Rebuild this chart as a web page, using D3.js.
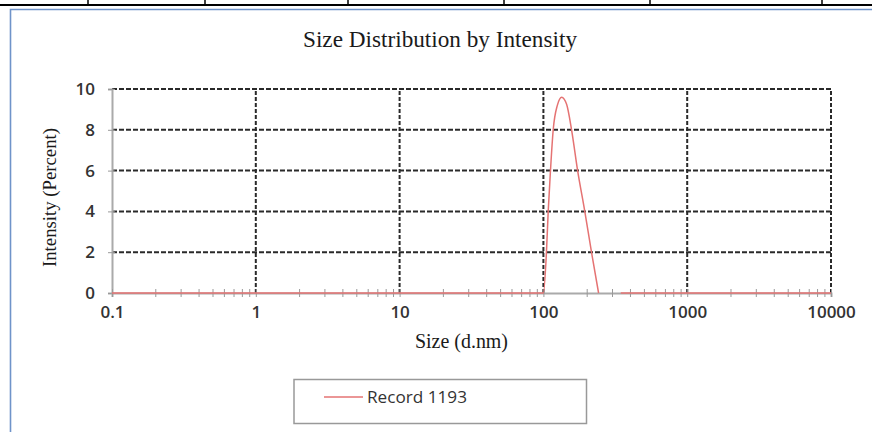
<!DOCTYPE html>
<html>
<head>
<meta charset="utf-8">
<script src="https://cdn.jsdelivr.net/npm/d3@7"></script>
<style>
  body { margin: 0; background: #fff; }
</style>
</head>
<body>
<div id="chart"></div>
<script>
// Data
const decadeTicks = [0.1, 1, 10, 100, 1000, 10000];
const decadeLabels = ["0.1", "1", "10", "100", "1000", "10000"];
const intensityTicks = [0, 2, 4, 6, 8, 10];
// size (d.nm) and intensity (%) of Record 1193; null = no point drawn
const recordSize = [0.1, 100, 105, 108, 112, 117, 125, 134, 145, 157, 173, 194, 216, 242, 300, 345, 10000];
const recordIntensity = [0, 0, 2, 4, 6, 8, 9.2, 9.6, 9.25, 8, 6, 4, 2, 0, null, 0, 0];
const seriesName = "Record 1193";

const width = 872, height = 432;
const plot = { left: 112, right: 831, top: 89, bottom: 293 };
const red = "#e57373";
const labelFont = "'Open Sans', sans-serif";
const serif = "'Liberation Serif', 'Times New Roman', serif";

const svg = d3.select("#chart")
    .append("svg")
    .attr("width", width)
    .attr("height", height);

svg.append("rect").attr("width", width).attr("height", height).attr("fill", "#fff");

// bit of the table above the chart
svg.append("line")
    .attr("x1", 0).attr("x2", width).attr("y1", 5).attr("y2", 5)
    .attr("stroke", "#000").attr("stroke-width", 2);
[88, 205, 348, 504, 650, 822].forEach(cx => {
    svg.append("line")
        .attr("x1", cx).attr("x2", cx).attr("y1", 0).attr("y2", 5)
        .attr("stroke", "#000").attr("stroke-width", 1.5);
});

// chart frame (runs off the right and bottom)
svg.append("path")
    .attr("d", `M10.5,${height} L10.5,9.5 L${width},9.5`)
    .attr("fill", "none")
    .attr("stroke", "#6f93c9")
    .attr("stroke-width", 1.6);

// Scales
const xScale = d3.scaleLog()
    .domain([0.1, 10000])
    .range([plot.left, plot.right]);

const yScale = d3.scaleLinear()
    .domain([0, 10])
    .range([plot.bottom, plot.top]);

// Dashed grid
svg.selectAll(".h-grid")
    .data(intensityTicks.slice(1))
    .enter()
    .append("line")
    .attr("class", "h-grid")
    .attr("x1", plot.left).attr("x2", plot.right)
    .attr("y1", d => yScale(d)).attr("y2", d => yScale(d))
    .attr("stroke", "#2a2a2a")
    .attr("stroke-width", 2)
    .attr("stroke-dasharray", "5,2");

svg.selectAll(".v-grid")
    .data(decadeTicks.slice(1))
    .enter()
    .append("line")
    .attr("class", "v-grid")
    .attr("x1", d => xScale(d)).attr("x2", d => xScale(d))
    .attr("y1", yScale(0)).attr("y2", yScale(10))
    .attr("stroke", "#2a2a2a")
    .attr("stroke-width", 2)
    .attr("stroke-dasharray", "4,2");

// Axes
const yAxis = svg.append("g")
    .attr("transform", `translate(${plot.left},0)`)
    .call(d3.axisLeft(yScale).tickValues(intensityTicks).tickSize(4).tickPadding(13));

yAxis.select(".domain").attr("stroke", "#aaa").attr("stroke-width", 2);
yAxis.selectAll(".tick line").attr("stroke", "#999").attr("x2", 3).attr("x1", -4);
yAxis.selectAll("text")
    .style("font-family", labelFont)
    .style("font-size", "17px")
    .style("font-weight", "600")
    .attr("fill", "#333");

const xMinor = svg.append("g")
    .attr("transform", `translate(0,${plot.bottom})`)
    .call(d3.axisBottom(xScale).tickValues(xScale.ticks()).tickFormat("").tickSize(4));

xMinor.select(".domain").attr("stroke", "#aaa").attr("stroke-width", 2);
xMinor.selectAll(".tick line").attr("stroke", "#999").attr("y1", -4).attr("y2", 4);

const xAxis = svg.append("g")
    .attr("transform", `translate(0,${plot.bottom})`)
    .call(d3.axisBottom(xScale)
        .tickValues(decadeTicks)
        .tickFormat((d, i) => decadeLabels[i])
        .tickSize(0)
        .tickPadding(22));

xAxis.select(".domain").remove();
xAxis.selectAll("text")
    .style("font-family", labelFont)
    .style("font-size", "17px")
    .style("font-weight", "600")
    .attr("fill", "#333")
    .attr("dy", "0.2em");

// Record line
const points = recordSize.map((s, i) => ({ size: s, value: recordIntensity[i] }));

const line = d3.line()
    .defined(d => d.value !== null)
    .x(d => xScale(d.size))
    .y(d => yScale(d.value))
    .curve(d3.curveMonotoneX);

svg.append("path")
    .datum(points)
    .attr("d", line)
    .attr("fill", "none")
    .attr("stroke", red)
    .attr("stroke-width", 1.5);

// Titles
svg.append("text")
    .attr("x", 440)
    .attr("y", 47)
    .attr("text-anchor", "middle")
    .attr("textLength", 274)
    .attr("lengthAdjust", "spacingAndGlyphs")
    .style("font-family", serif)
    .style("font-size", "24px")
    .attr("fill", "#1a1a1a")
    .text("Size Distribution by Intensity");

svg.append("text")
    .attr("x", 461.5)
    .attr("y", 348)
    .attr("text-anchor", "middle")
    .attr("textLength", 93)
    .attr("lengthAdjust", "spacingAndGlyphs")
    .style("font-family", serif)
    .style("font-size", "20px")
    .attr("fill", "#1a1a1a")
    .text("Size (d.nm)");

svg.append("text")
    .attr("transform", "translate(56,197.5) rotate(-90)")
    .attr("text-anchor", "middle")
    .attr("textLength", 139)
    .attr("lengthAdjust", "spacingAndGlyphs")
    .style("font-family", serif)
    .style("font-size", "19px")
    .attr("fill", "#1a1a1a")
    .text("Intensity (Percent)");

// Legend
const legend = svg.append("g").attr("transform", "translate(294,379.5)");

legend.append("rect")
    .attr("width", 292.5)
    .attr("height", 44)
    .attr("fill", "#fff")
    .attr("stroke", "#999")
    .attr("stroke-width", 1.5);

legend.append("line")
    .attr("x1", 30).attr("x2", 69)
    .attr("y1", 17.5).attr("y2", 17.5)
    .attr("stroke", red)
    .attr("stroke-width", 1.5);

legend.append("text")
    .attr("x", 73)
    .attr("y", 17.5)
    .attr("dy", "0.35em")
    .attr("textLength", 100)
    .attr("lengthAdjust", "spacingAndGlyphs")
    .style("font-family", labelFont)
    .style("font-size", "17px")
    .attr("fill", "#333")
    .text(seriesName);
</script>
</body>
</html>
